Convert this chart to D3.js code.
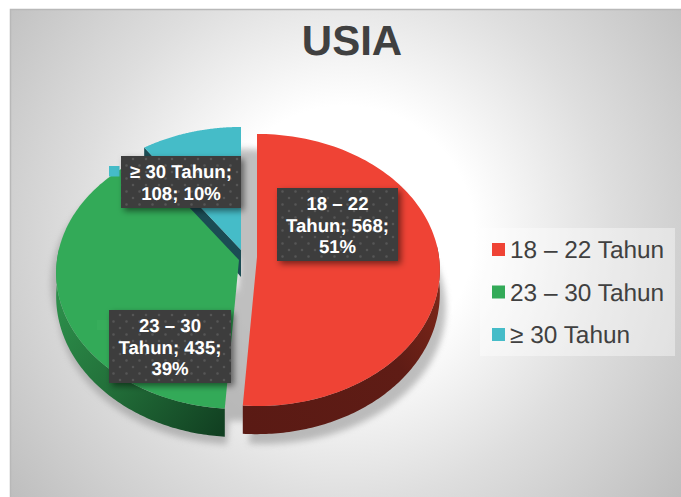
<!DOCTYPE html>
<html><head><meta charset="utf-8">
<script src="https://cdn.jsdelivr.net/npm/d3@7"></script>
<style>html,body{margin:0;padding:0;background:#fff;overflow:hidden}svg{display:block;font-family:"Liberation Sans",Arial,sans-serif;text-rendering:geometricPrecision}</style>
</head><body><div id="chart"></div>
<script>
const chartTitle = "USIA";
const categories = ["18 – 22 Tahun", "23 – 30 Tahun", "≥ 30 Tahun"];
const values = [568, 435, 108];
const percents = ["51%", "39%", "10%"];
const colors = ["#ef4335", "#33aa58", "#45bcc8"];
const labelLines = [["18 – 22", "Tahun; 568;", "51%"], ["23 – 30", "Tahun; 435;", "39%"], ["≥ 30 Tahun;", "108; 10%"]];

const W = 681, H = 497;
const svg = d3.select("#chart").append("svg").attr("width", W).attr("height", H);
const defs = svg.append("defs");

const bg = defs.append("radialGradient").attr("id", "bg").attr("gradientUnits", "userSpaceOnUse")
  .attr("cx", 345).attr("cy", 235).attr("r", 430);
[[0, "#fff"], [0.3, "#fff"], [0.62, "#dedede"], [1, "#bdbdbd"]].forEach(d => bg.append("stop").attr("offset", d[0]).attr("stop-color", d[1]));

const wallG = defs.append("linearGradient").attr("id", "wall1").attr("gradientUnits", "userSpaceOnUse")
  .attr("x1", 60).attr("y1", 300).attr("x2", 225).attr("y2", 430);
[[0, "#2c8e4a"], [0.45, "#226f39"], [1, "#113f21"]].forEach(d => wallG.append("stop").attr("offset", d[0]).attr("stop-color", d[1]));
const wallR = defs.append("linearGradient").attr("id", "wall0").attr("gradientUnits", "userSpaceOnUse")
  .attr("x1", 245).attr("y1", 430).attr("x2", 440).attr("y2", 300);
[[0, "#5a1a14"], [0.7, "#5f1c15"], [1, "#7a2619"]].forEach(d => wallR.append("stop").attr("offset", d[0]).attr("stop-color", d[1]));

const blur = defs.append("filter").attr("id", "blur").attr("x", "-20%").attr("y", "-20%").attr("width", "140%").attr("height", "140%");
blur.append("feGaussianBlur").attr("stdDeviation", 3);
const ds = defs.append("filter").attr("id", "ds").attr("x", "-20%").attr("y", "-20%").attr("width", "150%").attr("height", "150%");
ds.append("feDropShadow").attr("dx", 3).attr("dy", 3).attr("stdDeviation", 3).attr("flood-color", "#000").attr("flood-opacity", 0.5);

const pat = defs.append("pattern").attr("id", "dots").attr("width", 13).attr("height", 13).attr("patternUnits", "userSpaceOnUse");
pat.append("rect").attr("width", 13).attr("height", 13).attr("fill", "#3e3e3e");
[[3, 3], [9.5, 9.5]].forEach(p => pat.append("circle").attr("cx", p[0]).attr("cy", p[1]).attr("r", 1.2).attr("fill", "#575757"));

// background panel
svg.append("rect").attr("x", 10).attr("y", 9).attr("width", W - 10).attr("height", H - 9).attr("fill", "url(#bg)");
svg.append("path").attr("d", `M10.5,${H}V9.5H${W}`).attr("fill", "none").attr("stroke", "#b8b8b8").attr("stroke-width", 1.5);

// title
svg.append("text").attr("x", 352).attr("y", 55).attr("text-anchor", "middle")
  .attr("font-size", 42).attr("font-weight", "bold").attr("fill", "#404040").text(chartTitle);

// pie geometry: perspective projection of a tilted disc
const rx = d3.scaleLinear().domain([0, 1]).range([0, 182]);
const ry = d3.scaleLinear().domain([0, 1]).range([0, 134.8]);
const persp = 0.0955, depth = 23;
const centers = [{x: 257, y: 257}, {x: 239, y: 260}, {x: 241, y: 250}];
const pie = d3.pie().sort(null).value(d => d);
const arcs = pie(values);
const project = (c, a, r = 1, dz = 0) => {
  const u = Math.sin(a) * r, v = -Math.cos(a) * r, f = 1 / (1 - persp * v);
  return [c.x + rx(u) * f, c.y + ry(v) * f + dz * f * f];
};
const line = d3.line();
const rimPts = (c, a0, a1, dz = 0) => d3.range(0, 121).map(i => project(c, a0 + (a1 - a0) * i / 120, 1, dz));
const topPath = (i) => {
  const c = centers[i], a = arcs[i];
  return line([[c.x, c.y], ...rimPts(c, a.startAngle, a.endAngle)]) + "Z";
};

// soft shadow
const shadowOffsets = [[-18, 15, 6, 38], [-5, 10, 2, 36], [10, 22, 10, 22]];
const sh = svg.append("g").attr("filter", "url(#blur)").attr("opacity", 0.62);
arcs.forEach((a, i) => {
  const o = shadowOffsets[i];
  sh.append("path").attr("d", topPath(i)).attr("fill", "#999").attr("transform", `translate(${o[0]},${o[1]})`);
  sh.append("path").attr("d", topPath(i)).attr("fill", "#999").attr("transform", `translate(${o[2]},${o[3]})`);
});

// teal radial wall
(() => {
  const c = centers[2], a = arcs[2], p = project(c, a.startAngle);
  const pLow = project(c, a.startAngle, 1, 20);
  svg.append("path").attr("d", line([[c.x, c.y], p, pLow, [c.x, c.y + 27]]) + "Z").attr("fill", "#1b4c54");
})();
svg.append("path").attr("d", topPath(2)).attr("fill", colors[2]);

// green wall + top
(() => {
  const c = centers[1], a = arcs[1], a1 = Math.PI * 1.53;
  const upper = rimPts(c, a.startAngle, a1);
  const lower = rimPts(c, a.startAngle, a1, depth).reverse();
  svg.append("path").attr("d", line([...upper, ...lower]) + "Z").attr("fill", "url(#wall1)");
})();
svg.append("path").attr("d", topPath(1)).attr("fill", colors[1]);

// red wall + top
(() => {
  const c = centers[0], a = arcs[0], a0 = Math.PI * 0.47;
  const upper = rimPts(c, a0, a.endAngle);
  const lower = rimPts(c, a0, a.endAngle, depth).reverse();
  svg.append("path").attr("d", line([...upper, ...lower]) + "Z").attr("fill", "url(#wall0)");
})();
svg.append("path").attr("d", topPath(0)).attr("fill", colors[0]);

// small legend keys peeking out beside the data labels
svg.append("rect").attr("x", 109).attr("y", 166).attr("width", 10.5).attr("height", 10.5).attr("fill", colors[2]);
svg.append("rect").attr("x", 97).attr("y", 320).attr("width", 12).attr("height", 10).attr("fill", "#37ad5b");

// data labels
const boxes = [{x: 277, y: 188, w: 121, h: 73}, {x: 109, y: 310, w: 122, h: 73}, {x: 121, y: 156, w: 120, h: 52}];
const lab = svg.append("g");
[0, 1, 2].forEach(i => {
  const b = boxes[i];
  lab.append("rect").attr("x", b.x).attr("y", b.y).attr("width", b.w).attr("height", b.h)
    .attr("fill", "url(#dots)").attr("filter", "url(#ds)");
  labelLines[i].forEach((t, j) => {
    lab.append("text").attr("x", b.x + b.w / 2).attr("y", b.y + 22 + j * 21.5)
      .attr("text-anchor", "middle").attr("font-size", 18.6).attr("font-weight", "bold").attr("fill", "#fff").text(t);
  });
});

// legend
const lg = svg.append("g");
lg.append("rect").attr("x", 480).attr("y", 228).attr("width", 195).attr("height", 128).attr("fill", "#fff").attr("opacity", 0.4);
const legendY = d3.scalePoint().domain(categories).range([249.5, 334.5]);
categories.forEach((c, i) => {
  lg.append("rect").attr("x", 492).attr("y", legendY(c) - 6.5).attr("width", 13).attr("height", 13).attr("fill", colors[i]);
  lg.append("text").attr("x", 510).attr("y", legendY(c) + 8.5).attr("font-size", 24.4).attr("fill", "#404040").text(c);
});
</script></body></html>
